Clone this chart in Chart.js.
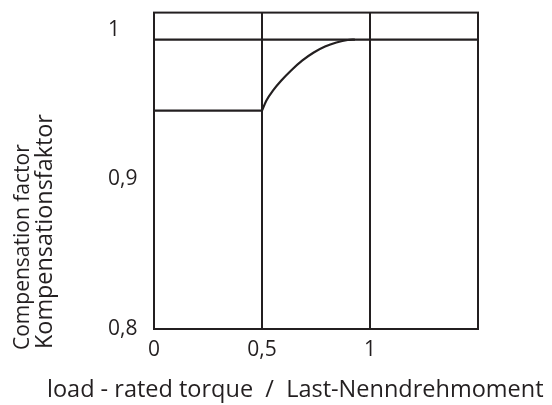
<!DOCTYPE html>
<html>
<head>
<meta charset="utf-8">
<script src="https://cdn.jsdelivr.net/npm/chart.js@4"></script>
<style>
  html, body { margin: 0; padding: 0; background: #fff; }
  #wrap { width: 552px; height: 405px; }
</style>
</head>
<body>
<div id="wrap"><canvas id="factor"></canvas></div>
<script>
// flat part below half load
const baseX = [0, 0.5];
const baseY = [0.946, 0.946];
// rise above half load
const riseX = [0.5, 0.5205, 0.5514, 0.5895, 0.6348, 0.6871, 0.7395, 0.7919, 0.8443, 0.8967, 0.93];
const riseY = [0.946, 0.9528, 0.9595, 0.9661, 0.9728, 0.9795, 0.9848, 0.9888, 0.9915, 0.9932, 0.9935];
// upper straight line
const ratedX = [0, 1.5];
const ratedY = [0.9935, 0.9935];

const xTicks = [0, 0.5, 1, 1.5];
const xTickLabels = ['0', '0,5', '1', ''];
const yTicks = [0.8, 0.9, 1];
const yTickLabels = ['0,8', '0,9', '1'];

const xTitle = 'load - rated torque  /  Last-Nenndrehmoment';
const yTitle = ['Compensation factor', 'Kompensationsfaktor'];

const ink = '#231f20';
const pts = (xs, ys) => xs.map((x, i) => ({ x: x, y: ys[i] }));

// box round the plot and the two axis titles
const frameAndTitles = {
    id: 'frameAndTitles',
    afterDraw(chart) {
        const ctx = chart.ctx;
        const a = chart.chartArea;
        ctx.save();
        ctx.strokeStyle = ink;
        ctx.lineWidth = 2;
        ctx.strokeRect(a.left, a.top, a.right - a.left, a.bottom - a.top);
        ctx.fillStyle = ink;
        ctx.textAlign = 'left';
        ctx.textBaseline = 'alphabetic';
        ctx.font = '23.5px "Open Sans"';
        ctx.fillText(xTitle, a.left - 107, a.bottom + 68);
        // rotated y title, second line set a little larger
        ctx.translate(a.left - 125, a.bottom + 21);
        ctx.rotate(-Math.PI / 2);
        ctx.font = '21px "Open Sans"';
        ctx.fillText(yTitle[0], 0, 0);
        ctx.font = '23.4px "Open Sans"';
        ctx.fillText(yTitle[1], 1, 23);
        ctx.restore();
    }
};

const config = {
    type: 'line',
    data: {
        datasets: [
            { label: 'base', data: pts(baseX, baseY), borderColor: ink },
            { label: 'rise', data: pts(riseX, riseY), borderColor: ink, cubicInterpolationMode: 'monotone' },
            { label: 'rated', data: pts(ratedX, ratedY), borderColor: ink }
        ]
    },
    options: {
        responsive: true,
        maintainAspectRatio: false,
        animation: false,
        layout: { padding: { left: 108, top: 12, right: 74, bottom: 0 } },
        elements: {
            point: { radius: 0 },
            line: { borderWidth: 2.2, tension: 0 }
        },
        plugins: {
            legend: { display: false },
            tooltip: { enabled: false },
            colors: { enabled: false }
        },
        scales: {
            x: {
                type: 'linear',
                min: 0,
                max: 1.5,
                afterBuildTicks: s => { s.ticks = xTicks.map(v => ({ value: v })); },
                afterFit: s => { s.height = 76; },
                grid: { color: ink, lineWidth: 2, drawTicks: false },
                border: { display: false },
                ticks: {
                    padding: 8,
                    color: ink,
                    font: { family: 'Open Sans', size: 21 },
                    maxRotation: 0,
                    autoSkip: false,
                    callback: (v, i) => xTickLabels[i]
                }
            },
            y: {
                type: 'linear',
                min: 0.8,
                max: 1.0115,
                afterBuildTicks: s => { s.ticks = yTicks.map(v => ({ value: v })); },
                afterFit: s => { s.width = 46; },
                grid: { display: false },
                border: { display: false },
                ticks: {
                    crossAlign: 'far',
                    padding: 0,
                    color: ink,
                    font: { family: 'Open Sans', size: 21 },
                    callback: (v, i) => yTickLabels[i]
                }
            }
        }
    },
    plugins: [frameAndTitles]
};

new Chart(document.getElementById('factor'), config);
</script>
</body>
</html>
